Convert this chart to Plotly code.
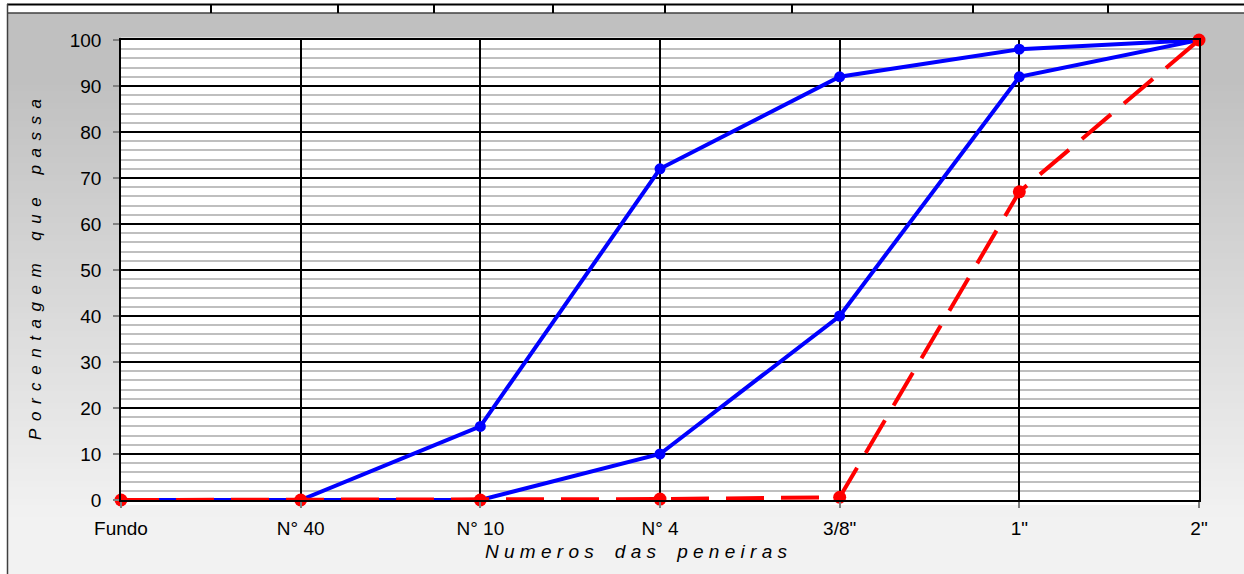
import plotly.graph_objects as go

# sieve openings and cumulative % passing
peneiras = ['Fundo', 'N° 40', 'N° 10', 'N° 4', '3/8"', '1"', '2"']
limite_superior = [0, 0, 16, 72, 92, 98, 100]
limite_inferior = [0, 0, 0, 10, 40, 92, 100]
amostra = [0, 0, 0, 0.2, 0.6, 67, 100]

W, H = 1244, 574
L, R, T, B = 121, 1199, 40, 500  # plot area in pixels


def px(x):
    return (x - L) / (R - L)


def py(y):
    return (B - y) / (B - T)


def spaced(text, sep, word_sep):
    return word_sep.join(sep.join(word) for word in text.split(' '))


def grey(y):
    top, bottom, y0, y1 = 192, 242, 80, 520
    if y <= y0:
        v = top
    elif y >= y1:
        v = bottom
    else:
        v = top + (bottom - top) * (y - y0) / (y1 - y0)
    v = int(round(v))
    return f'rgb({v},{v},{v})'


shapes = []
# gradient background of the chart frame, kept outside the plot area
step = 6
y = 13
while y < H:
    y2 = min(y + step, H)
    c = grey((y + y2) / 2)
    if y2 <= T or y >= B:
        pieces = [(8, W)]
    else:
        pieces = [(8, L), (R, W)]
    for xa, xb in pieces:
        shapes.append(dict(type='rect', xref='paper', yref='paper',
                           x0=px(xa), x1=px(xb), y0=py(y2 + 0.5), y1=py(y),
                           fillcolor=c, line=dict(width=0), layer='below'))
    y = y2

# table strip above the chart
shapes.append(dict(type='line', xref='paper', yref='paper', x0=px(7), x1=px(W), y0=py(4.5), y1=py(4.5),
                   line=dict(color='black', width=2)))
shapes.append(dict(type='line', xref='paper', yref='paper', x0=px(7), x1=px(W), y0=py(13), y1=py(13),
                   line=dict(color='#404040', width=1.5)))
for xc in [211, 338, 434, 553, 665, 792, 973, 1108]:
    shapes.append(dict(type='line', xref='paper', yref='paper', x0=px(xc), x1=px(xc), y0=py(5), y1=py(13),
                       line=dict(color='black', width=2)))
shapes.append(dict(type='line', xref='paper', yref='paper', x0=px(7.5), x1=px(7.5), y0=py(4), y1=py(H),
                   line=dict(color='#404040', width=1.5)))

fig = go.Figure()
fig.add_trace(go.Scatter(x=peneiras, y=limite_superior, mode='lines+markers', cliponaxis=False,
                         line=dict(color='#0000ff', width=4), marker=dict(color='#0000ff', size=11)))
fig.add_trace(go.Scatter(x=peneiras, y=limite_inferior, mode='lines+markers', cliponaxis=False,
                         line=dict(color='#0000ff', width=4), marker=dict(color='#0000ff', size=11)))
fig.add_trace(go.Scatter(x=peneiras, y=amostra, mode='lines+markers', cliponaxis=False,
                         line=dict(color='#ff0000', width=4, dash='38px,17px'),
                         marker=dict(color='#ff0000', size=13)))

font = dict(family='Liberation Sans, Arial, sans-serif', size=19, color='black')

fig.update_xaxes(type='category', range=[0, 6], showgrid=True, gridcolor='black', gridwidth=1.5,
                 showline=True, linecolor='black', linewidth=1.5, mirror=True,
                 ticks='outside', ticklen=6, tickcolor='#808080', tickwidth=1.5,
                 tickfont=font, ticklabelstandoff=4, zeroline=False)
fig.update_yaxes(range=[0, 100], dtick=10, showgrid=True, gridcolor='black', gridwidth=1.5,
                 minor=dict(dtick=2, showgrid=True, gridcolor='#bfbfbf', gridwidth=2),
                 showline=True, linecolor='black', linewidth=1.5, mirror=True,
                 ticks='outside', ticklen=6, tickcolor='#808080', tickwidth=1.5,
                 tickfont=font, ticklabelstandoff=8, zeroline=False)

x_title_font = dict(family='Liberation Sans, Arial, sans-serif', size=19, color='black', style='italic')
y_title_font = dict(family='Liberation Sans, Arial, sans-serif', size=17, color='black', style='italic')
annotations = [
    dict(text=spaced('Numeros das peneiras', '\u00a0', '\u00a0' * 4), xref='paper', yref='paper',
         x=px(636), y=py(551), showarrow=False, font=x_title_font, xanchor='center', yanchor='middle'),
    dict(text=spaced('Porcentagem que passa', '\u2006\u00a0', '\u2006\u00a0' * 3), xref='paper', yref='paper',
         x=px(35), y=py(270), showarrow=False, font=y_title_font, textangle=-90,
         xanchor='center', yanchor='middle'),
]

fig.update_layout(width=W, height=H, margin=dict(l=L, r=W - R, t=T, b=H - B),
                  paper_bgcolor='white', plot_bgcolor='white', showlegend=False,
                  shapes=shapes, annotations=annotations, hovermode=False)

fig.write_html('out.html', config={'displayModeBar': False},
               post_script="document.body.style.margin='0';")
